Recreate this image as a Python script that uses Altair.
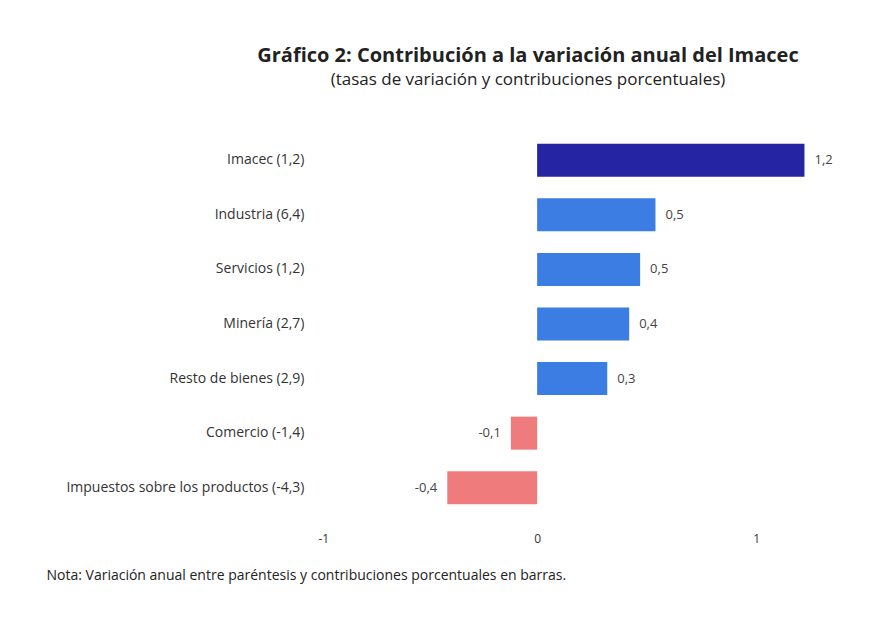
import altair as alt
import pandas as pd

categories = ["Imacec (1,2)", "Industria (6,4)", "Servicios (1,2)", "Minería (2,7)",
              "Resto de bienes (2,9)", "Comercio (-1,4)", "Impuestos sobre los productos (-4,3)"]
values = [1.22, 0.54, 0.47, 0.42, 0.32, -0.12, -0.41]
labels = ["1,2", "0,5", "0,5", "0,4", "0,3", "-0,1", "-0,4"]
groups = ["total", "pos", "pos", "pos", "pos", "neg", "neg"]

df = pd.DataFrame({"cat": categories, "val": values, "lab": labels, "grp": groups})

font = "Open Sans"
y = alt.Y("cat:N", sort=categories, title=None,
          axis=alt.Axis(labelFontSize=14, labelColor="#333333", labelFont=font, ticks=False,
                        domain=False, labelLimit=400, labelPadding=14))
x = alt.X("val:Q", scale=alt.Scale(domain=[-1, 1.3], nice=False),
          title="Nota: Variación anual entre paréntesis y contribuciones porcentuales en barras.",
          axis=alt.Axis(values=[-1, 0, 1], labelExpr="replace(format(datum.value, 'd'), '−', '-')",
                        grid=False, domain=False, ticks=False, labelFontSize=12, labelColor="#333333",
                        labelFont=font, labelPadding=18,
                        titleFontSize=14, titleFontWeight="normal", titleColor="#222222", titleFont=font,
                        titleAnchor="start", titleAlign="left", titleX=-272, titlePadding=24))

bars = alt.Chart(df).mark_bar(size=33).encode(
    y=y, x=x,
    color=alt.Color("grp:N", scale=alt.Scale(domain=["total", "pos", "neg"],
                                             range=["#2525A3", "#3B7DE3", "#F07B7D"]), legend=None))

pos = alt.Chart(df[df.val > 0]).mark_text(align="left", dx=10, fontSize=13, color="#444444", font=font).encode(
    y=alt.Y("cat:N", sort=categories), x="val:Q", text="lab:N")
neg = alt.Chart(df[df.val < 0]).mark_text(align="right", dx=-10, fontSize=13, color="#444444", font=font).encode(
    y=alt.Y("cat:N", sort=categories), x="val:Q", text="lab:N")

chart = (bars + pos + neg).properties(
    width=504, height=382,
    padding={"left": 38, "top": 38, "right": 5, "bottom": 5},
    title=alt.TitleParams("Gráfico 2: Contribución a la variación anual del Imacec",
                          subtitle="(tasas de variación y contribuciones porcentuales)",
                          fontSize=20, font=font, fontWeight="bold", color="#222222",
                          subtitleFontSize=17, subtitleFont=font, subtitleColor="#222222",
                          anchor="middle", dx=-42, offset=45, subtitlePadding=6)
).configure_view(stroke=None)

chart.save("out.html", embed_options={"renderer": "svg", "actions": False})
